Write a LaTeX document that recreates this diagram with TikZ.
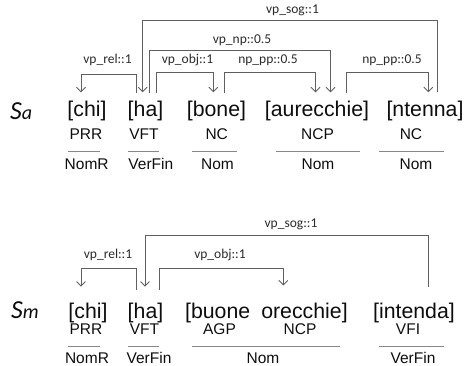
\documentclass[tikz,border=0pt]{standalone}
\usepackage{fontspec}
\setmainfont{Liberation Sans}
\newfontfamily\lblfont{Carlito}
\usetikzlibrary{arrows.meta}
\definecolor{txt}{HTML}{0D0D0D}
\definecolor{lbl}{HTML}{2A2A2A}
\definecolor{edgegray}{HTML}{606060}
\definecolor{rulegray}{HTML}{888888}
\tikzset{
  word/.style={anchor=base, inner sep=0pt, text=txt, font=\fontsize{21.3}{24}\selectfont},
  postag/.style={anchor=base, inner sep=0pt, text=txt, font=\fontsize{15.5}{18}\selectfont},
  cat/.style={anchor=base, inner sep=0pt, text=txt, font=\fontsize{15.5}{18}\selectfont},
  elabel/.style={anchor=base, inner sep=0pt, text=lbl, font=\lblfont\fontsize{13.5}{16}\selectfont},
  sent/.style={anchor=base west, inner sep=0pt, text=txt, font=\lblfont\itshape\fontsize{26}{28}\selectfont},
  dep/.style={draw=edgegray, line width=0.9pt, -{Straight Barb[length=4.5pt,width=9pt,line width=0.9pt]}},
  under/.style={draw=rulegray, line width=0.9pt}
}
\begin{document}
\begin{tikzpicture}[x=1pt,y=-1pt]
\useasboundingbox (0,0) rectangle (464,366);

% ---------- S_a ----------
\node[sent] (sa) at (10,120) {S{\fontsize{20}{22}\selectfont a}};

\node[word] (a1) at (87,116.7) {[chi]};
\node[word] (a2) at (145.5,116.7) {[ha]};
\node[word] (a3) at (216.5,116.7) {[bone]};
\node[word] (a4) at (317,116.7) {[aurecchie]};
\node[word] (a5) at (425,116.7) {[ntenna]};

\node[postag] (pa1) at (86,139.5) {PRR};
\node[postag] (pa2) at (144,139.5) {VFT};
\node[postag] (pa3) at (216.7,139.5) {NC};
\node[postag] (pa4) at (317.5,139.5) {NCP};
\node[postag] (pa5) at (411,139.5) {NC};

\coordinate (ua1l) at (68,151.7);  \coordinate (ua1r) at (100,151.7);
\coordinate (ua2l) at (128,151.7); \coordinate (ua2r) at (159,151.7);
\coordinate (ua3l) at (191.7,151.7); \coordinate (ua3r) at (236.7,151.7);
\coordinate (ua4l) at (276,151.7); \coordinate (ua4r) at (360,151.7);
\coordinate (ua5l) at (379.3,151.7); \coordinate (ua5r) at (444,151.7);
\foreach \i in {1,...,5} {\draw[under] (ua\i l) -- (ua\i r);}

\node[cat] (ca1) at (86.7,169.5) {NomR};
\node[cat] (ca2) at (150.8,169.5) {VerFin};
\node[cat] (ca3) at (217.5,169.5) {Nom};
\node[cat] (ca4) at (318,169.5) {Nom};
\node[cat] (ca5) at (416,169.5) {Nom};

% dependency arcs S_a
\coordinate (rel-s) at (136.7,93);   \coordinate (rel-t) at (81,92.3);
\coordinate (sog-s) at (437.3,92);   \coordinate (sog-t) at (142.7,92.3);
\coordinate (np-s)  at (149.3,93);   \coordinate (np-t)  at (330.5,92.3);
\coordinate (obj-s) at (156.7,93);   \coordinate (obj-t) at (213.3,92.3);
\coordinate (pp1-s) at (224.3,93);   \coordinate (pp1-t) at (315.5,92.3);
\coordinate (pp2-s) at (346.7,93);   \coordinate (pp2-t) at (428.3,92.3);

\draw[dep] (rel-s) -- (rel-s |- 0,74) -| (rel-t);
\draw[dep] (sog-s) -- (sog-s |- 0,20.7) -| (sog-t);
\draw[dep] (np-s)  -- (np-s |- 0,50.7) -| (np-t);
\draw[dep] (obj-s) -- (obj-s |- 0,72.7) -| (obj-t);
\draw[dep] (pp1-s) -- (pp1-s |- 0,72.7) -| (pp1-t);
\draw[dep] (pp2-s) -- (pp2-s |- 0,72.7) -| (pp2-t);

\node[elabel] (la-sog) at (292.5,14) {vp\_sog::1};
\node[elabel] (la-np)  at (242,44) {vp\_np::0.5};
\node[elabel] (la-rel) at (107.5,64) {vp\_rel::1};
\node[elabel] (la-obj) at (187.5,64) {vp\_obj::1};
\node[elabel] (la-pp1) at (268,64) {np\_pp::0.5};
\node[elabel] (la-pp2) at (392,64) {np\_pp::0.5};

% ---------- S_m ----------
\node[sent] (sm) at (11,318.5) {S{\fontsize{20}{22}\selectfont m}};

\node[word] (m1) at (88,319) {[chi]};
\node[word] (m2) at (145.5,319) {[ha]};
\node[word] (m3) at (217.7,319) {[buone};
\node[word] (m4) at (304.5,319) {orecchie]};
\node[word] (m5) at (414,319) {[intenda]};

\node[postag] (pm1) at (86,335) {PRR};
\node[postag] (pm2) at (144.5,335) {VFT};
\node[postag] (pm3) at (219.5,335) {AGP};
\node[postag] (pm4) at (300,335) {NCP};
\node[postag] (pm5) at (408,335) {VFI};

\coordinate (um1l) at (68,346);  \coordinate (um1r) at (100,346);
\coordinate (um2l) at (128,346); \coordinate (um2r) at (159,346);
\coordinate (um3l) at (191.7,346); \coordinate (um3r) at (340,346);
\coordinate (um4l) at (379,346); \coordinate (um4r) at (444,346);
\foreach \i in {1,...,4} {\draw[under] (um\i l) -- (um\i r);}

\node[cat] (cm1) at (87,363.5) {NomR};
\node[cat] (cm2) at (149,363.5) {VerFin};
\node[cat] (cm3) at (263,363.5) {Nom};
\node[cat] (cm4) at (413,363.5) {VerFin};

% dependency arcs S_m
\coordinate (mrel-s) at (136.7,290);  \coordinate (mrel-t) at (81,286.7);
\coordinate (msog-s) at (428.3,286.7);\coordinate (msog-t) at (145,286.7);
\coordinate (mobj-s) at (159.3,290);  \coordinate (mobj-t) at (283.3,285.5);

\draw[dep] (msog-s) -- (msog-s |- 0,235) -| (msog-t);
\draw[dep] (mrel-s) -- (mrel-s |- 0,268.3) -| (mrel-t);
\draw[dep] (mobj-s) -- (mobj-s |- 0,268.3) -| (mobj-t);

\node[elabel] (lm-sog) at (291,228) {vp\_sog::1};
\node[elabel] (lm-rel) at (108,259) {vp\_rel::1};
\node[elabel] (lm-obj) at (220,259) {vp\_obj::1};
\end{tikzpicture}
\end{document}
